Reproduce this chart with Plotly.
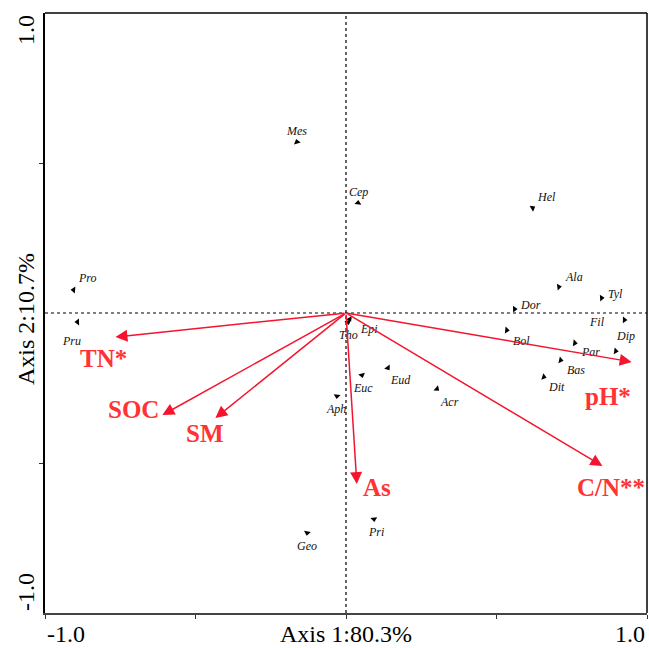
import math
import plotly.graph_objects as go

# Species scores (Axis 1, Axis 2)
species = ["Mes", "Cep", "Hel", "Ala", "Tyl", "Dor", "Fil", "Bol", "Dip", "Par", "Bas", "Dit",
           "Pro", "Pru", "Tho", "Epi", "Euc", "Eud", "Acr", "Aph", "Pri", "Geo"]
sp_x = [-0.163, 0.040, 0.620, 0.707, 0.849, 0.560, 0.925, 0.534, 0.896, 0.760, 0.713, 0.657,
        -0.905, -0.892, 0.007, 0.012, 0.053, 0.139, 0.302, -0.030, 0.093, -0.129]
sp_y = [0.570, 0.367, 0.350, 0.087, 0.050, 0.013, -0.023, -0.057, -0.127, -0.100, -0.157, -0.213,
        0.077, -0.030, -0.030, -0.020, -0.207, -0.183, -0.253, -0.277, -0.687, -0.733]
# label offsets in pixels (dx, dy; dy positive = up)
sp_off = [(0, 11), (0, 11), (14, 11), (15, 10), (14, 4), (16, 4), (-27, -2), (15, -11), (10, 15),
          (16, -9), (15, -10), (13, -10), (14, 12), (-6, -19), (0, -13), (19, -10), (1, -13),
          (13, -12), (13, -13), (-1, -13), (2, -13), (0, -13)]

# Environmental variables
env = ["TN*", "SOC", "SM", "As", "pH*", "C/N**"]
env_x = [-0.766, -0.610, -0.434, 0.036, 0.949, 0.852]
env_y = [-0.080, -0.340, -0.350, -0.570, -0.163, -0.510]
env_lx = [-0.806, -0.707, -0.468, 0.103, 0.869, 0.879]
env_ly = [-0.150, -0.323, -0.403, -0.580, -0.277, -0.580]

RED_LINE = "#f5142d"
RED_TEXT = "#ff3333"
SERIF = "Liberation Serif, Times New Roman, serif"

fig = go.Figure()

# dotted zero lines
fig.add_shape(type="line", x0=-1, x1=1, y0=0, y1=0, xref="x", yref="y",
              line=dict(color="black", width=1.2, dash="dot"))
fig.add_shape(type="line", x0=0, x1=0, y0=-1, y1=1, xref="x", yref="y",
              line=dict(color="black", width=1.2, dash="dot"))

angles = [math.degrees(math.atan2(x, y)) for x, y in zip(sp_x, sp_y)]
fig.add_trace(go.Scatter(
    x=sp_x, y=sp_y, mode="markers",
    marker=dict(symbol="triangle-up", size=6, color="black", angle=angles, line=dict(width=0)),
    hoverinfo="text", text=species, showlegend=False))

for name, x, y, (dx, dy) in zip(species, sp_x, sp_y, sp_off):
    fig.add_annotation(x=x, y=y, text="<i>" + name + "</i>", showarrow=False, xshift=dx, yshift=dy,
                       font=dict(family=SERIF, size=12, color="#111"))

for name, x, y, lx, ly in zip(env, env_x, env_y, env_lx, env_ly):
    fig.add_annotation(x=x, y=y, ax=0, ay=0, xref="x", yref="y", axref="x", ayref="y",
                       text="", showarrow=True, arrowhead=2, arrowsize=1.6, arrowwidth=1.5,
                       arrowcolor=RED_LINE, standoff=0)
    fig.add_annotation(x=lx, y=ly, text="<b>" + name + "</b>", showarrow=False,
                       font=dict(family=SERIF, size=25, color=RED_TEXT))

# tick labels and axis titles
fig.add_annotation(x=-1, y=0, xref="x", yref="paper", text="-1.0", showarrow=False,
                   xanchor="left", yanchor="top", yshift=-6,
                   font=dict(family=SERIF, size=24, color="black"))
fig.add_annotation(x=1, y=0, xref="x", yref="paper", text="1.0", showarrow=False,
                   xanchor="right", yanchor="top", yshift=-6,
                   font=dict(family=SERIF, size=24, color="black"))
fig.add_annotation(x=0, y=0, xref="x", yref="paper", text="Axis 1:80.3%", showarrow=False,
                   xanchor="center", yanchor="top", yshift=-6,
                   font=dict(family=SERIF, size=24, color="black"))
fig.add_annotation(x=0, y=1, xref="paper", yref="y", text="1.0", showarrow=False,
                   xanchor="right", yanchor="top", xshift=-4, textangle=-90,
                   font=dict(family=SERIF, size=24, color="black"))
fig.add_annotation(x=0, y=-1, xref="paper", yref="y", text="-1.0", showarrow=False,
                   xanchor="right", yanchor="bottom", xshift=-4, textangle=-90,
                   font=dict(family=SERIF, size=24, color="black"))
fig.add_annotation(x=0, y=-0.02, xref="paper", yref="y", text="Axis 2:10.7%", showarrow=False,
                   xanchor="right", yanchor="middle", xshift=-4, textangle=-90,
                   font=dict(family=SERIF, size=24, color="black"))

fig.update_xaxes(range=[-1, 1], showgrid=False, zeroline=False, showticklabels=False,
                 tickvals=[-1, -0.5, 0, 0.5, 1], ticks="outside", ticklen=4, tickcolor="#333",
                 showline=True, linecolor="#444", linewidth=2, mirror=False)
fig.update_yaxes(range=[-1, 1], showgrid=False, zeroline=False, showticklabels=False,
                 tickvals=[-0.5, 0.5], ticks="outside", ticklen=4, tickcolor="#333",
                 showline=True, linecolor="black", linewidth=1.5, mirror=False)

# top and right frame lines
fig.add_shape(type="line", xref="paper", yref="paper", x0=0, x1=1, y0=1, y1=1,
              line=dict(color="black", width=1.5))
fig.add_shape(type="line", xref="paper", yref="paper", x0=1, x1=1, y0=0, y1=1,
              line=dict(color="black", width=1.5))

fig.update_layout(width=649, height=648, margin=dict(l=45, r=2, t=13, b=35),
                  plot_bgcolor="white", paper_bgcolor="white")

fig.write_html("out.html")
